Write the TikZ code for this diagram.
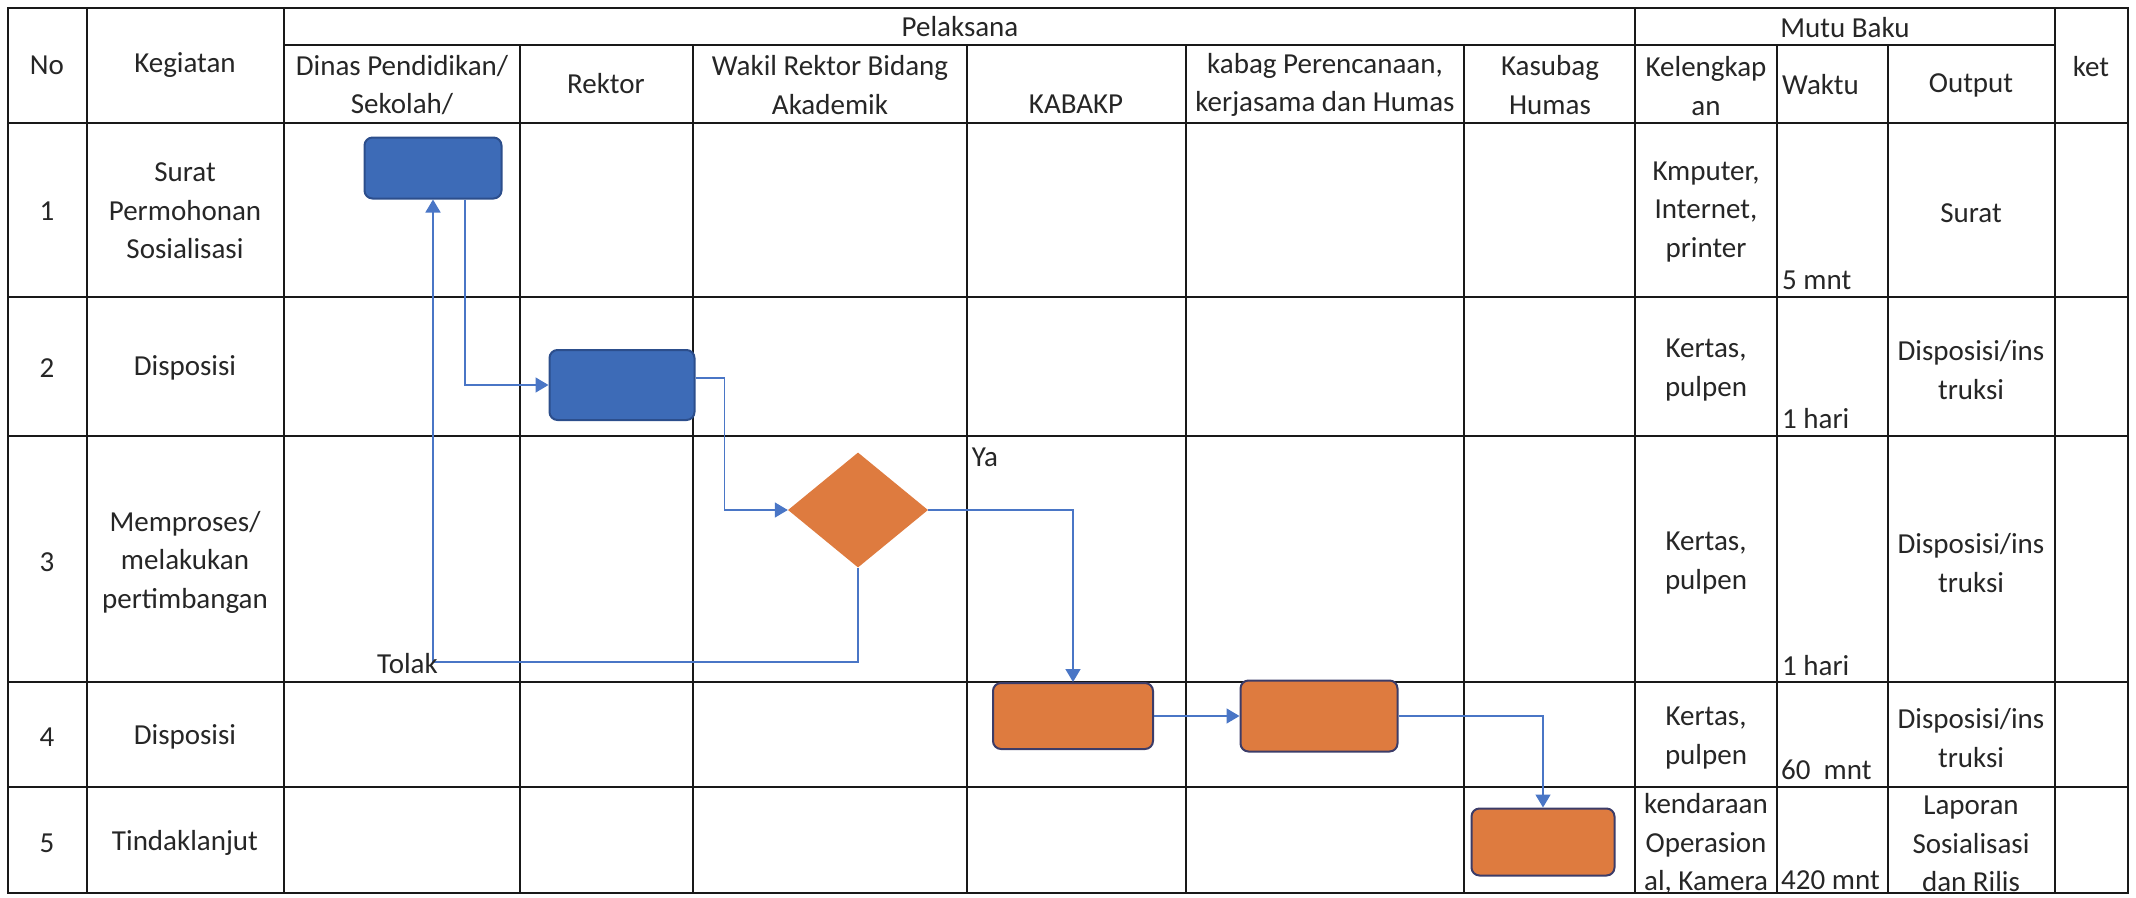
\documentclass[tikz,border=0pt]{standalone}
\usepackage{fontspec}
\setmainfont{Carlito}
\usetikzlibrary{shapes.geometric,arrows.meta,positioning}
\definecolor{flowblue}{HTML}{4A76C6}
\definecolor{boxblue}{HTML}{3D6BB7}
\definecolor{boxblueline}{HTML}{2C4E8C}
\definecolor{boxorange}{HTML}{DE7B3F}
\definecolor{boxorangeline}{HTML}{3C3C68}
\newcommand{\cellfont}{\fontsize{29pt}{38.5pt}\selectfont}

\begin{document}
\begin{tikzpicture}[x=1pt, y=-1pt,
        cell/.style={font=\cellfont, text=black!85, inner sep=0pt, align=center},
        tabline/.style={line width=2.4pt, black!90},
        bluebox/.style={draw=boxblueline, fill=boxblue, line width=2pt, rounded corners=8pt, inner sep=0pt},
        orangebox/.style={draw=boxorangeline, fill=boxorange, line width=2pt, rounded corners=8pt, inner sep=0pt},
        flow/.style={draw=flowblue, line width=1.6pt, -{Triangle[width=15pt,length=13pt]}}]
            \useasboundingbox (0,0) rectangle (2136,897);

            % table
            \draw[tabline] (8,8) rectangle (2128,893);
            \draw[tabline] (284,45) -- (2055,45);
            \draw[tabline] (8,123) -- (2128,123) (8,297) -- (2128,297) (8,436) -- (2128,436)
                (8,682) -- (2128,682) (8,787) -- (2128,787);
            \draw[tabline] (87,8) -- (87,893) (284,8) -- (284,893) (1635,8) -- (1635,893) (2055,8) -- (2055,893);
            \draw[tabline] (520,45) -- (520,893) (693,45) -- (693,893) (967,45) -- (967,893)
                (1186,45) -- (1186,893) (1464,45) -- (1464,893) (1777,45) -- (1777,893) (1888,45) -- (1888,893);

            % header
            \node[cell] (hno)      at (47, 65)   {No};
            \node[cell] (hkeg)     at (185, 65)  {Kegiatan};
            \node[cell] (hpel)     at (960, 27)  {Pelaksana};
            \node[cell] (hmutu)    at (1845, 28) {Mutu Baku};
            \node[cell] (hket)     at (2091, 67) {ket};
            \node[cell] (hdinas)   at (402, 85)  {Dinas Pendidikan/\\Sekolah/};
            \node[cell] (hrektor)  at (606, 84)  {Rektor};
            \node[cell] (hwakil)   at (830, 85)  {Wakil Rektor Bidang\\Akademik};
            \node[cell, anchor=base] (hkabakp) at (1076, 113) {KABAKP};
            \node[cell] (hkabag)   at (1325, 85) {kabag Perencanaan,\\kerjasama dan Humas};
            \node[cell] (hkasubag) at (1550, 85) {Kasubag\\Humas};
            \node[cell] (hkel)     at (1706, 86) {Kelengkap\\an};
            \node[cell, anchor=west] (hwaktu) at (1782, 85) {Waktu};
            \node[cell] (houtput)  at (1971, 85) {Output};

            % rows
            \node[cell] (no1) at (47, 211) {1};
            \node[cell] (no2) at (47, 368) {2};
            \node[cell] (no3) at (47, 562) {3};
            \node[cell] (no4) at (47, 737) {4};
            \node[cell] (no5) at (47, 843) {5};

            \node[cell] (keg1) at (185, 211) {Surat\\Permohonan\\Sosialisasi};
            \node[cell] (keg2) at (185, 368) {Disposisi};
            \node[cell] (keg3) at (185, 562) {Memproses/\\melakukan\\pertimbangan};
            \node[cell] (keg4) at (185, 737) {Disposisi};
            \node[cell] (keg5) at (185, 843) {Tindaklanjut};

            \node[cell] (kel1) at (1706, 212) {Kmputer,\\Internet,\\printer};
            \node[cell] (kel2) at (1706, 370) {Kertas,\\pulpen};
            \node[cell] (kel3) at (1706, 563) {Kertas,\\pulpen};
            \node[cell] (kel4) at (1706, 738) {Kertas,\\pulpen};
            \node[cell] (kel5) at (1706, 844) {kendaraan\\Operasion\\al, Kamera};

            \node[cell, anchor=base west] (wkt1) at (1782, 289) {5 mnt};
            \node[cell, anchor=base west] (wkt2) at (1782, 428) {1 hari};
            \node[cell, anchor=base west] (wkt3) at (1782, 675) {1 hari};
            \node[cell, anchor=base west] (wkt4) at (1781, 779) {60~~mnt};
            \node[cell, anchor=base west] (wkt5) at (1781, 889) {420 mnt};

            \node[cell] (out1) at (1971, 213) {Surat};
            \node[cell] (out2) at (1971, 370) {Disposisi/ins\\truksi};
            \node[cell] (out3) at (1971, 563) {Disposisi/ins\\truksi};
            \node[cell] (out4) at (1971, 738) {Disposisi/ins\\truksi};
            \node[cell] (out5) at (1971, 844) {Laporan\\Sosialisasi\\dan Rilis};

            % flow
            \node[bluebox, minimum width=137pt, minimum height=61pt] (srt) at (433, 168) {};
            \node[bluebox, minimum width=145pt, minimum height=70pt] (rek) at (622, 385) {};
            \node[diamond, fill=boxorange, minimum width=140pt, minimum height=115pt, inner sep=0pt] (cek) at (858, 510) {};
            \node[orangebox, minimum width=160pt, minimum height=66pt] (kab) at (1073, 716) {};
            \node[orangebox, minimum width=157pt, minimum height=71pt] (prc) at (1319, 716) {};
            \node[orangebox, minimum width=143pt, minimum height=67pt] (hum) at (1543, 842) {};
            \coordinate (tlk) at (433, 662);

            \draw[flow] ([xshift=32pt]srt.south) |- (rek.west);
            \draw[flow] ([yshift=7pt]rek.east) -- ++(29pt,0) |- (cek.west);
            \draw[flow] (cek.south) |- (tlk) -- (srt.south);
            \draw[flow] (cek.east) -| (kab.north);
            \draw[flow] (kab.east) -- (prc.west);
            \draw[flow] (prc.east) -| (hum.north);

            \node[cell] (ya) at (985, 457) {Ya};
            \node[cell, anchor=base east] (tolak) at (438, 673) {Tolak};
        \end{tikzpicture}
\end{document}
